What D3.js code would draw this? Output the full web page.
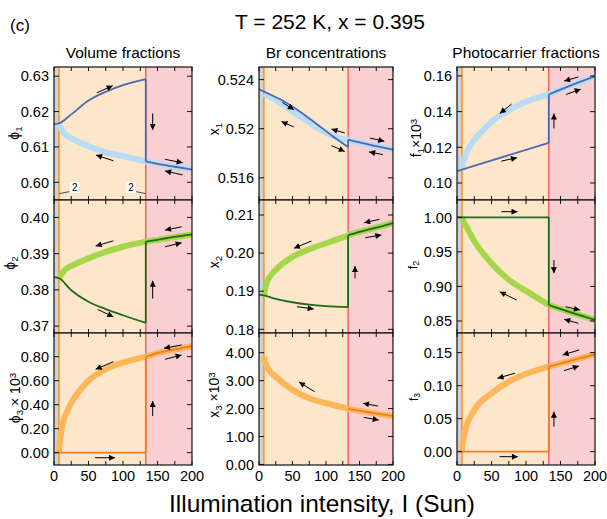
<!DOCTYPE html>
<html>
<head>
<meta charset="utf-8">
<script src="https://cdn.jsdelivr.net/npm/d3@7"></script>
<style>
  body { margin: 0; background: #fff; }
  svg { font-family: "Liberation Sans", Arial, Helvetica, sans-serif; }
</style>
</head>
<body>
<script>
// ---- data ----
var xTicks = [0, 50, 100, 150, 200];
var iLow = 7.3, iHigh = 133;   // phase boundaries (Sun)

// row 1 : phi1, x1, f1 (blue)
var phi1Up   = [[0,0.6165],[7.3,0.6167],[25,0.6192],[50,0.6231],[75,0.6256],[100,0.6275],[133,0.6292]];
var phi1Hi   = [[133,0.6059],[150,0.6052],[175,0.6044],[200,0.6036]];
var phi1Down = [[7.3,0.6167],[10,0.6152],[15,0.6138],[25,0.6125],[50,0.6102],[75,0.6085],[100,0.6074],[133,0.6059]];
var phi1Ticks = [0.60, 0.61, 0.62, 0.63];

var x1Up   = [[0,0.52323],[7.3,0.52303],[35.8,0.52228],[60.7,0.52141],[85.6,0.5204],[110.5,0.51937],[133,0.51851]];
var x1Hi   = [[133,0.51911],[150,0.51888],[175,0.51858],[200,0.51829]];
var x1Down = [[7.3,0.52285],[11,0.52276],[35.8,0.52195],[60.7,0.521],[85.6,0.52014],[110.5,0.51941],[133,0.51908]];
var x1Ticks = [0.516, 0.52, 0.524];

var f1Up   = [[0,0.1067],[133,0.1225]];
var f1Hi   = [[133,0.1496],[165,0.1547],[200,0.1598]];
var f1Down = [[7.3,0.1072],[8.7,0.111],[13.5,0.1166],[24.7,0.124],[37.8,0.1296],[50,0.1343],[74,0.1405],[100,0.1455],[133,0.1496]];
var f1Ticks = [0.10, 0.12, 0.14, 0.16];

// row 2 : phi2, x2, f2 (green)
var phi2Up   = [[0,0.3835],[7.3,0.3832],[25,0.3799],[50,0.3767],[75,0.3747],[100,0.373],[133,0.3709]];
var phi2Hi   = [[133,0.3933],[150,0.3938],[175,0.3946],[200,0.3953]];
var phi2Down = [[7.3,0.3832],[10,0.3841],[15.5,0.3855],[25,0.3866],[50,0.3887],[75,0.3905],[100,0.3919],[133,0.3933]];
var phi2Ticks = [0.37, 0.38, 0.39, 0.40];

var x2Up   = [[0,0.1891],[7.3,0.1889],[25,0.188],[50,0.1871],[75,0.1865],[100,0.1861],[133,0.1858]];
var x2Hi   = [[133,0.2047],[150,0.2056],[175,0.2067],[200,0.2079]];
var x2Down = [[7.3,0.1889],[9,0.1905],[11,0.192],[15,0.1935],[25,0.1956],[50,0.199],[75,0.201],[100,0.2026],[133,0.2046]];
var x2Ticks = [0.18, 0.19, 0.20, 0.21];

var f2Up   = [[0,1.0],[133,1.0]];
var f2Hi   = [[133,0.873],[165,0.8625],[200,0.8515]];
var f2Down = [[7.3,1.0],[8.7,0.996],[13.6,0.9864],[24.7,0.9661],[50,0.9334],[74,0.9103],[100,0.8935],[133,0.8731]];
var f2Ticks = [0.85, 0.90, 0.95, 1.00];

// row 3 : phi3, x3, f3 (orange)
var phi3Up   = [[0,0],[133,0]];
var phi3Hi   = [[133,0.80],[150,0.83],[175,0.86],[200,0.888]];
var phi3Down = [[7.3,0],[8,0.06],[9,0.11],[11,0.19],[14,0.27],[18,0.33],[25,0.415],[37.5,0.52],[50,0.60],[75,0.695],[100,0.75],[133,0.80]];
var phi3Ticks = [0, 0.2, 0.4, 0.6, 0.8];

var x3Up   = [];
var x3Hi   = [[133,1.99],[165,1.86],[200,1.73]];
var x3Down = [[7.3,3.85],[8,3.72],[10,3.6],[15,3.38],[25,3.14],[50,2.67],[75,2.37],[100,2.19],[133,2.0]];
var x3Ticks = [0, 1, 2, 3, 4];

var f3Up   = [[0,0],[133,0]];
var f3Hi   = [[133,0.129],[165,0.138],[200,0.1475]];
var f3Down = [[7.3,0],[8,0.01],[10,0.022],[13.6,0.038],[25,0.063],[50,0.0885],[75,0.106],[100,0.118],[133,0.129]];
var f3Ticks = [0, 0.05, 0.10, 0.15];

// arrows [I0, v0, I1, v1]
var phi1Arrows = [[62,0.6253,85,0.6273],[143,0.6195,143,0.6148],[86,0.6061,61,0.6077],[161,0.6065,186.5,0.6055],[186.5,0.6021,161,0.6032]];
var x1Arrows = [[35,0.52214,52,0.52154],[52,0.52014,33.5,0.52059],[128,0.51965,108,0.51997],[108,0.51862,128,0.51815],[165.5,0.51924,187,0.51897],[185,0.51789,164.3,0.51811]];
var f1Arrows = [[79,0.1442,62,0.139],[64.4,0.1123,87,0.1142],[140.5,0.1306,140.5,0.139],[176,0.1594,155.3,0.1572],[158,0.1496,179.3,0.1526]];
var phi2Arrows = [[86,0.39354,60.4,0.39208],[63.3,0.3746,86,0.37256],[143,0.3776,143,0.3825],[185,0.3974,161,0.3965],[161,0.3919,185,0.393]];
var x2Arrows = [[78.2,0.20318,52.2,0.20126],[56.7,0.18594,81.6,0.18533],[143.3,0.19339,143.3,0.19662],[180,0.20887,157,0.20798],[158.8,0.20404,182.7,0.20475]];
var f2Arrows = [[64.5,1.0081,87.7,1.0081],[140.5,0.9382,140.5,0.919],[86.3,0.8803,62,0.8923],[157.4,0.8706,178.2,0.8658],[176,0.8466,155.3,0.8524]];
var phi3Arrows = [[86,0.758,60.4,0.695],[59.4,-0.042,88.4,-0.042],[143,0.306,143,0.431],[185,0.8975,159.4,0.87],[161,0.778,185,0.814]];
var x3Arrows = [[83.1,2.603,59.7,2.95],[177.6,2.09,155.2,2.19],[156.3,1.686,178.7,1.59]];
var f3Arrows = [[83.8,0.1188,58.7,0.1112],[61.6,-0.0076,88.3,-0.0076],[140.5,0.0379,140.5,0.0606],[177,0.1541,153,0.1465],[155,0.1227,176.7,0.1298]];

var colTitles = ["Volume fractions", "Br concentrations", "Photocarrier fractions"];

// ---- layout ----
var W = 607, H = 519;
var cols = [[54, 192], [259, 393], [457, 595]];
var rows = [[67, 200], [200, 333], [333, 465]];
var rowColors = [
    {dark: "#4a68b3", light: "#b8dcf6"},
    {dark: "#1c6a1a", light: "#a6d64c"},
    {dark: "#f47b20", light: "#fdb75a"}
];

var panels = [
    {r:0, c:0, dom:[0.595, 0.6326], ticks:phi1Ticks, fmt:d3.format(".2f"), up:phi1Up, hi:phi1Hi, down:phi1Down, arrows:phi1Arrows,
     label:[["ϕ",""],["1","sub"]], lx:19, ly:133, fs:14},
    {r:0, c:1, dom:[0.51419, 0.52503], ticks:x1Ticks, fmt:function(d){ return d === 0.52 ? "0.52" : d3.format(".3f")(d); }, up:x1Up, hi:x1Hi, down:x1Down, arrows:x1Arrows,
     label:[["x",""],["1","sub"]], lx:219, ly:129, fs:14},
    {r:0, c:2, dom:[0.0905, 0.165], ticks:f1Ticks, fmt:d3.format(".2f"), up:f1Up, hi:f1Hi, down:f1Down, arrows:f1Arrows,
     label:[["f",""],["1","sub"],["×10",""],["3","sup"]], lx:421, ly:138, fs:14},
    {r:1, c:0, dom:[0.3681, 0.4048], ticks:phi2Ticks, fmt:d3.format(".2f"), up:phi2Up, hi:phi2Hi, down:phi2Down, arrows:phi2Arrows,
     label:[["ϕ",""],["2","sub"]], lx:15, ly:263, fs:14},
    {r:1, c:1, dom:[0.17903, 0.21394], ticks:x2Ticks, fmt:d3.format(".2f"), up:x2Up, hi:x2Hi, down:x2Down, arrows:x2Arrows,
     label:[["x",""],["2","sub"]], lx:219, ly:262, fs:14},
    {r:1, c:2, dom:[0.8326, 1.025], ticks:f2Ticks, fmt:d3.format(".2f"), up:f2Up, hi:f2Hi, down:f2Down, arrows:f2Arrows,
     label:[["f",""],["2","sub"]], lx:417, ly:265, fs:13},
    {r:2, c:0, dom:[-0.1025, 0.997], ticks:phi3Ticks, fmt:d3.format(".2f"), up:phi3Up, hi:phi3Hi, down:phi3Down, arrows:phi3Arrows,
     label:[["ϕ",""],["3","sub"],[" × 10",""],["3","sup"]], lx:20, ly:398, fs:14},
    {r:2, c:1, dom:[-0.02, 4.705], ticks:x3Ticks, fmt:d3.format(".2f"), up:x3Up, hi:x3Hi, down:x3Down, arrows:x3Arrows,
     label:[["x",""],["3","sub"],[" ×10",""],["3","sup"]], lx:219, ly:395, fs:14},
    {r:2, c:2, dom:[-0.0202, 0.1798], ticks:f3Ticks, fmt:d3.format(".2f"), up:f3Up, hi:f3Hi, down:f3Down, arrows:f3Arrows,
     label:[["f",""],["3","sub"]], lx:418, ly:397, fs:12}
];

var svg = d3.select("body").append("svg")
    .attr("width", W)
    .attr("height", H);

var defs = svg.append("defs");
defs.append("marker")
    .attr("id", "head")
    .attr("viewBox", "0 0 10 10")
    .attr("refX", 10).attr("refY", 5)
    .attr("markerWidth", 7).attr("markerHeight", 6)
    .attr("markerUnits", "userSpaceOnUse")
    .attr("orient", "auto")
    .append("path")
    .attr("d", "M0,0 L10,5 L0,10 z")
    .attr("fill", "#000");

// titles
svg.append("text").attr("x", 10).attr("y", 31).attr("font-size", 17).text("(c)");
svg.append("text").attr("x", 330).attr("y", 29).attr("font-size", 21)
    .attr("text-anchor", "middle").text("T = 252 K, x = 0.395");
colTitles.forEach(function(t, i) {
    svg.append("text")
        .attr("x", (cols[i][0] + cols[i][1]) / 2)
        .attr("y", 58)
        .attr("font-size", 15.5)
        .attr("text-anchor", "middle")
        .text(t);
});
svg.append("text").attr("x", 322).attr("y", 512).attr("font-size", 24.5)
    .attr("text-anchor", "middle").text("Illumination intensity, I (Sun)");

panels.forEach(function(p) {
    var cx = cols[p.c], ry = rows[p.r];
    var x = d3.scaleLinear().domain([0, 200]).range(cx);
    var y = d3.scaleLinear().domain(p.dom).range([ry[1], ry[0]]);
    var col = rowColors[p.r];
    var g = svg.append("g");

    // phase backgrounds
    var bands = [[0, iLow, "#d2d2d2"], [iLow, iHigh, "#fde6ca"], [iHigh, 200, "#f9cfd2"]];
    g.selectAll("rect.band").data(bands).enter().append("rect")
        .attr("x", function(d) { return x(d[0]); })
        .attr("width", function(d) { return x(d[1]) - x(d[0]); })
        .attr("y", ry[0]).attr("height", ry[1] - ry[0])
        .attr("fill", function(d) { return d[2]; });
    g.append("line").attr("x1", x(iLow)).attr("x2", x(iLow)).attr("y1", ry[0]).attr("y2", ry[1])
        .attr("stroke", "#f6921e").attr("stroke-width", 1.5);
    g.append("line").attr("x1", x(iHigh)).attr("x2", x(iHigh)).attr("y1", ry[0]).attr("y2", ry[1])
        .attr("stroke", "#ef5257").attr("stroke-width", 1.3);

    var clipId = "clip" + p.r + p.c;
    defs.append("clipPath").attr("id", clipId).append("rect")
        .attr("x", cx[0]).attr("y", ry[0]).attr("width", cx[1] - cx[0]).attr("height", ry[1] - ry[0]);
    var plot = g.append("g").attr("clip-path", "url(#" + clipId + ")");

    var line = d3.line()
        .x(function(d) { return x(d[0]); })
        .y(function(d) { return y(d[1]); })
        .curve(d3.curveMonotoneX);

    // backward sweep: thick light line
    [p.down, p.hi].forEach(function(s) {
        plot.append("path").attr("d", line(s)).attr("fill", "none")
            .attr("stroke", col.light).attr("stroke-width", 6);
    });
    // forward sweep: thin dark line with jump
    if (p.up.length) {
        plot.append("path").attr("d", line(p.up)).attr("fill", "none")
            .attr("stroke", col.dark).attr("stroke-width", 1.8);
        var a = p.up[p.up.length - 1], b = p.hi[0];
        plot.append("line").attr("x1", x(a[0])).attr("x2", x(b[0])).attr("y1", y(a[1])).attr("y2", y(b[1]))
            .attr("stroke", col.dark).attr("stroke-width", 1.8);
    }
    plot.append("path").attr("d", line(p.hi)).attr("fill", "none")
        .attr("stroke", col.dark).attr("stroke-width", 1.8);

    // arrows
    g.selectAll("line.arrow").data(p.arrows).enter().append("line")
        .attr("x1", function(d) { return x(d[0]); })
        .attr("y1", function(d) { return y(d[1]); })
        .attr("x2", function(d) { return x(d[2]); })
        .attr("y2", function(d) { return y(d[3]); })
        .attr("stroke", "#000").attr("stroke-width", 1)
        .attr("marker-end", "url(#head)");

    // frame
    g.append("rect").attr("x", cx[0]).attr("y", ry[0])
        .attr("width", cx[1] - cx[0]).attr("height", ry[1] - ry[0])
        .attr("fill", "none").attr("stroke", "#111").attr("stroke-width", 1.2);

    // x ticks (every 25, inward, top & bottom)
    var xt = d3.range(0, 201, 25);
    xt.forEach(function(t) {
        g.append("line").attr("x1", x(t)).attr("x2", x(t)).attr("y1", ry[1]).attr("y2", ry[1] - 4)
            .attr("stroke", "#111");
        g.append("line").attr("x1", x(t)).attr("x2", x(t)).attr("y1", ry[0]).attr("y2", ry[0] + 4)
            .attr("stroke", "#111");
    });
    // y ticks (inward, left & right)
    p.ticks.forEach(function(t) {
        g.append("line").attr("x1", cx[0]).attr("x2", cx[0] + 5).attr("y1", y(t)).attr("y2", y(t)).attr("stroke", "#111");
        g.append("line").attr("x1", cx[1]).attr("x2", cx[1] - 5).attr("y1", y(t)).attr("y2", y(t)).attr("stroke", "#111");
        g.append("text").attr("x", cx[0] - 5).attr("y", y(t)).attr("dy", "0.36em")
            .attr("text-anchor", "end").attr("font-size", 14.5).text(p.fmt(t));
    });
    if (p.r === 2) {
        xTicks.forEach(function(t) {
            g.append("text").attr("x", x(t)).attr("y", 481).attr("text-anchor", "middle")
                .attr("font-size", 14.5).text(t);
        });
    }

    // y label
    var lab = g.append("text")
        .attr("transform", "translate(" + p.lx + "," + p.ly + ") rotate(-90)")
        .attr("text-anchor", "middle")
        .attr("font-size", p.fs);
    p.label.forEach(function(part) {
        var ts = lab.append("tspan").text(part[0]);
        if (part[1] === "sub") ts.attr("font-size", p.fs * 0.7).attr("baseline-shift", "-25%");
        if (part[1] === "sup") ts.attr("font-size", p.fs * 0.7).attr("baseline-shift", "45%");
    });
});

// "2" markers in the phi1 panel
var x0 = d3.scaleLinear().domain([0, 200]).range(cols[0]);
var y0 = d3.scaleLinear().domain(panels[0].dom).range([rows[0][1], rows[0][0]]);
var twoTags = [[30, 0.5985, iLow, 0.5968], [111.5, 0.5985, iHigh, 0.5968]];
twoTags.forEach(function(d) {
    var bx = x0(d[0]), by = y0(d[1]);
    svg.append("line").attr("x1", bx + (d[2] < d[0] ? -5 : 5)).attr("y1", by + 4)
        .attr("x2", x0(d[2])).attr("y2", y0(d[3]))
        .attr("stroke", "#222").attr("stroke-width", 0.8);
    svg.append("rect").attr("x", bx - 5).attr("y", by - 5.5).attr("width", 10).attr("height", 11)
        .attr("fill", "#fff");
    svg.append("text").attr("x", bx).attr("y", by + 3.5).attr("text-anchor", "middle")
        .attr("font-size", 10).text("2");
});
</script>
</body>
</html>
